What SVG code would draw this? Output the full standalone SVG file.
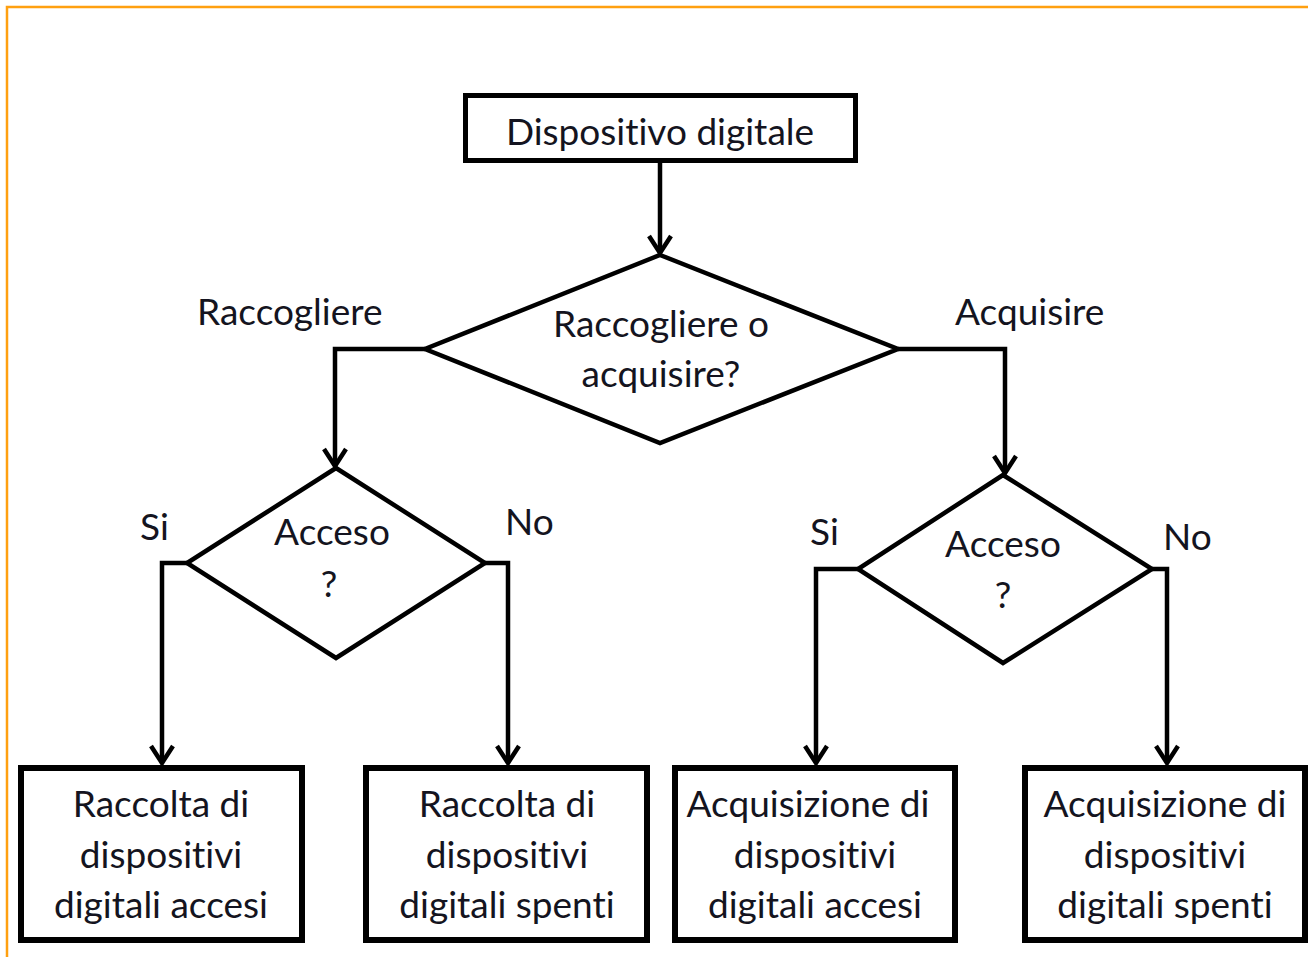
<svg xmlns="http://www.w3.org/2000/svg" width="1308" height="957" viewBox="0 0 1308 957">
<style>
  .box{fill:#fff;stroke:#000;stroke-width:6}
  .dia{fill:#fff;stroke:#000;stroke-width:4.5;stroke-linejoin:miter}
  .t,.lbl{font-family:Lato,"Liberation Sans",sans-serif;font-size:37px;fill:#141420;font-variant-ligatures:none;font-feature-settings:"liga" 0,"clig" 0}
  .t{text-anchor:middle}
  .con{fill:none;stroke:#000;stroke-width:4.5;marker-end:url(#arr)}
</style>
<defs>
  <marker id="arr" markerUnits="userSpaceOnUse" markerWidth="40" markerHeight="40" viewBox="-20 -20 40 40" refX="0" refY="0" orient="auto" overflow="visible">
    <path d="M-17,-11 L0,0 L-17,11" fill="none" stroke="#000" stroke-width="4.5" stroke-linejoin="miter"/>
  </marker>
</defs>
<rect width="1308" height="957" fill="#fff"/>
<rect x="7" y="7" width="1320" height="980" fill="none" stroke="#FFA010" stroke-width="2.5"/>

<g id="connectors">
  <path class="con" d="M660,163 V253"/>
  <path class="con" d="M425,349 H335 V466"/>
  <path class="con" d="M898,349 H1005 V473"/>
  <path class="con" d="M187,563 H162 V763"/>
  <path class="con" d="M485,563 H508 V763"/>
  <path class="con" d="M858,569 H816 V763"/>
  <path class="con" d="M1152,569 H1167 V763"/>
</g>

<g id="labels">
  <text class="lbl" x="197" y="325">Raccogliere</text>
  <text class="lbl" x="955" y="325">Acquisire</text>
  <text class="lbl" x="140" y="540">Si</text>
  <text class="lbl" x="505" y="535">No</text>
  <text class="lbl" x="810" y="545">Si</text>
  <text class="lbl" x="1163" y="550">No</text>
</g>

<g id="n-start">
  <rect class="box" x="465.5" y="95.5" width="390" height="65" style="stroke-width:5"/>
  <text class="t" x="660" y="145">Dispositivo digitale</text>
</g>

<g id="n-decision">
  <polygon class="dia" points="660,255 898,349 660,443 425,349"/>
  <text class="t" x="661" y="337">Raccogliere o</text>
  <text class="t" x="661" y="387">acquisire?</text>
</g>

<g id="n-acceso-left">
  <polygon class="dia" points="336,468 485,563 336,658 187,563"/>
  <text class="t" x="332" y="545">Acceso</text>
  <text class="t" x="329" y="597">?</text>
</g>

<g id="n-acceso-right">
  <polygon class="dia" points="1003,475 1152,569 1003,663 858,569"/>
  <text class="t" x="1003" y="557">Acceso</text>
  <text class="t" x="1003" y="608">?</text>
</g>

<g id="n-raccolta-accesi">
  <rect class="box" x="21" y="768" width="281" height="172"/>
  <text class="t" x="161" y="817">Raccolta di</text>
  <text class="t" x="161" y="868">dispositivi</text>
  <text class="t" x="161" y="918">digitali accesi</text>
</g>

<g id="n-raccolta-spenti">
  <rect class="box" x="366" y="768" width="281" height="172"/>
  <text class="t" x="507" y="817">Raccolta di</text>
  <text class="t" x="507" y="868">dispositivi</text>
  <text class="t" x="507" y="918">digitali spenti</text>
</g>

<g id="n-acquisizione-accesi">
  <rect class="box" x="675" y="768" width="280" height="172"/>
  <text class="t" x="808" y="817">Acquisizione di</text>
  <text class="t" x="815" y="868">dispositivi</text>
  <text class="t" x="815" y="918">digitali accesi</text>
</g>

<g id="n-acquisizione-spenti">
  <rect class="box" x="1025" y="768" width="280" height="172"/>
  <text class="t" x="1165" y="817">Acquisizione di</text>
  <text class="t" x="1165" y="868">dispositivi</text>
  <text class="t" x="1165" y="918">digitali spenti</text>
</g>
</svg>
